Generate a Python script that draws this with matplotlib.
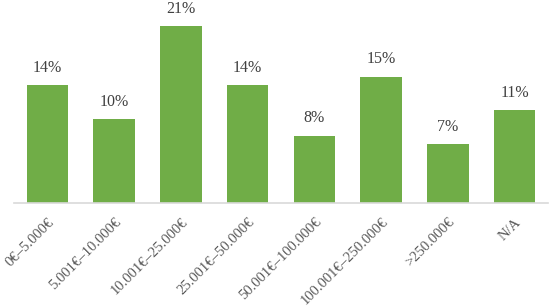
import matplotlib
matplotlib.use("Agg")
import matplotlib.pyplot as plt

categories = ["0€–5.000€", "5.001€–10.000€", "10.001€–25.000€", "25.001€–50.000€",
              "50.001€–100.000€", "100.001€–250.000€", ">250.000€", "N/A"]
shares = [14, 10, 21, 14, 8, 15, 7, 11]

plt.rcParams['font.family'] = ['Liberation Serif', 'DejaVu Serif']

fig = plt.figure(figsize=(5.5, 3.07), dpi=100)
ax = fig.add_axes([14/550, 104/307, 534/550, 203/307])

x = range(len(categories))
bars = ax.bar(x, shares, width=0.62, color="#70AD47")
for b, v in zip(bars, shares):
    ax.text(b.get_x() + b.get_width()/2, v + 1.1, f"{v}%", ha="center", va="bottom",
            fontsize=11.5, color="#404040")

ax.set_xlim(-0.5, len(categories) - 0.5)
ax.set_ylim(0, 24.1)
ax.set_xticks(list(x))
ax.set_xticklabels(categories, rotation=45, ha="right", rotation_mode="anchor",
                   fontsize=10.5, color="#595959")
ax.tick_params(axis="x", length=0, pad=9)
ax.set_yticks([])
for s in ["top", "right", "left"]:
    ax.spines[s].set_visible(False)
ax.spines["bottom"].set_color("#d9d9d9")
ax.spines["bottom"].set_linewidth(1.2)

fig.savefig("out.png", dpi=100)
